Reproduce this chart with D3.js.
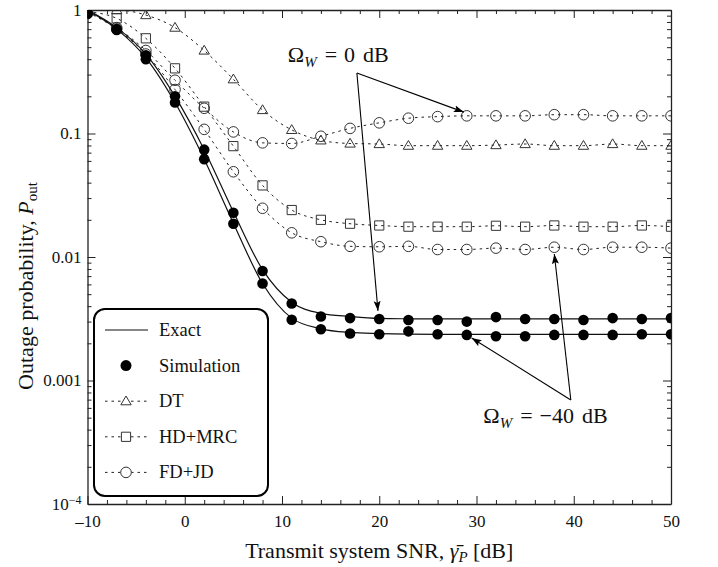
<!DOCTYPE html>
<html>
<head>
<meta charset="utf-8">
<script src="https://cdn.jsdelivr.net/npm/d3@7"></script>
<style>
  body { margin: 0; background: #fff; }
  svg { display: block; font-family: "Liberation Serif", "DejaVu Serif", serif; }
  .axis path, .axis line { stroke: #222; }
  .axis text { font-family: "Liberation Serif", serif; font-size: 17px; fill: #111; }
</style>
</head>
<body>
<script>
// transmit SNR grid (dB)
const snr = [-10, -7, -4, -1, 2, 5, 8, 11, 14, 17, 20, 23, 26, 29, 32, 35, 38, 41, 44, 47, 50]

// exact curves (solid) for the proposed scheme
const exactOmega0 = [1.0, 0.72, 0.44, 0.2, 0.074, 0.0232, 0.0079, 0.0043, 0.0035, 0.0033, 0.00318, 0.00316, 0.00315, 0.00315, 0.00315, 0.00315, 0.00315, 0.00315, 0.00315, 0.00315, 0.00315]
const exactOmega40 = [0.99, 0.7, 0.41, 0.178, 0.062, 0.0188, 0.0061, 0.0032, 0.00262, 0.00245, 0.0024, 0.00237, 0.00236, 0.00236, 0.00236, 0.00236, 0.00236, 0.00236, 0.00236, 0.00236, 0.00236]

// simulation points (filled)
const simOmega0 = [0.94, 0.70, 0.43, 0.20, 0.074, 0.0228, 0.0077, 0.0042, 0.0033, 0.0032, 0.00315, 0.00309, 0.00309, 0.00300, 0.00326, 0.00315, 0.00315, 0.00309, 0.00320, 0.00315, 0.00320]
const simOmega40 = [0.93, 0.69, 0.40, 0.178, 0.062, 0.0186, 0.0061, 0.0031, 0.0026, 0.0024, 0.00237, 0.00250, 0.00237, 0.00234, 0.00228, 0.00228, 0.00234, 0.00234, 0.00234, 0.00237, 0.00237]

// benchmark schemes (dotted, open markers)
const dt = [0.99, 1.0, 0.91, 0.72, 0.47, 0.275, 0.155, 0.107, 0.088, 0.083, 0.0822, 0.0797, 0.0797, 0.0797, 0.0806, 0.0822, 0.0797, 0.0797, 0.0822, 0.0797, 0.0797]
const hdMrc = [0.97, 0.856, 0.59, 0.337, 0.165, 0.079, 0.038, 0.024, 0.020, 0.0186, 0.0180, 0.0176, 0.0176, 0.0176, 0.0179, 0.0176, 0.0180, 0.0176, 0.0176, 0.0180, 0.0176]
const fdJdOmega0 = [0.97, 0.72, 0.47, 0.27, 0.16, 0.103, 0.084, 0.083, 0.095, 0.11, 0.122, 0.133, 0.137, 0.139, 0.139, 0.139, 0.142, 0.142, 0.139, 0.139, 0.139]
const fdJdOmega40 = [0.96, 0.70, 0.44, 0.227, 0.108, 0.049, 0.0248, 0.0157, 0.0133, 0.0122, 0.0121, 0.0122, 0.0115, 0.0115, 0.0118, 0.0115, 0.0120, 0.0115, 0.0120, 0.0120, 0.0118]

const xMajorTicks = [-10, 0, 10, 20, 30, 40, 50]
const xMinorTicks = [-8, -6, -4, -2, 2, 4, 6, 8, 12, 14, 16, 18, 22, 24, 26, 28, 32, 34, 36, 38, 42, 44, 46, 48]
const yMajorTicks = [1, 0.1, 0.01, 0.001, 0.0001]
const yTickLabels = ['1', '0.1', '0.01', '0.001', '10']
const legendItems = ['Exact', 'Simulation', 'DT', 'HD+MRC', 'FD+JD']

// annotation anchors, in data units [snr, Pout]
const omega0Origin = [17.7, 0.309]
const omega0Tips = [[28.7, 0.149], [19.87, 0.00366]]
const omega40Origin = [39.7, 0.000695]
const omega40Tips = [[29.5, 0.00221], [38.0, 0.01058]]

const width = 718
const height = 567
const margin = {top: 10, right: 47, bottom: 63, left: 87.5}

const svg = d3.select('body').append('svg')
  .attr('width', width)
  .attr('height', height)

const x = d3.scaleLinear().domain([-10, 50]).range([margin.left, width - margin.right])
const y = d3.scaleLog().domain([1e-4, 1]).range([height - margin.bottom, margin.top])

const defs = svg.append('defs')
defs.append('clipPath').attr('id', 'plot-clip')
  .append('rect')
  .attr('x', x(-10)).attr('y', y(1))
  .attr('width', x(50) - x(-10)).attr('height', y(1e-4) - y(1))

defs.append('marker')
  .attr('id', 'arrow')
  .attr('viewBox', '0 0 10 10')
  .attr('refX', 10).attr('refY', 5)
  .attr('markerWidth', 10).attr('markerHeight', 10)
  .attr('markerUnits', 'userSpaceOnUse')
  .attr('orient', 'auto')
  .append('path')
  .attr('d', 'M0,1.5L10,5L0,8.5L2,5Z')
  .attr('fill', '#000')

// minor log ticks
const yMinorTicks = []
for (const d of [1e-4, 1e-3, 1e-2, 1e-1]) {
  for (let k = 2; k <= 9; k++) yMinorTicks.push(k * d)
}

// ---- axes ----
const axisB = svg.append('g').attr('class', 'axis')
  .attr('transform', 'translate(0,' + y(1e-4) + ')')
axisB.call(d3.axisBottom(x).tickValues(xMajorTicks).tickSizeInner(-8).tickSizeOuter(0).tickPadding(11)
  .tickFormat(d => d < 0 ? '\u2013' + Math.abs(d) : d))
axisB.append('g').call(d3.axisBottom(x).tickValues(xMinorTicks).tickSizeInner(-4).tickSizeOuter(0).tickFormat(''))
  .select('.domain').remove()

const axisT = svg.append('g').attr('class', 'axis')
  .attr('transform', 'translate(0,' + y(1) + ')')
axisT.call(d3.axisTop(x).tickValues(xMajorTicks).tickSizeInner(-8).tickSizeOuter(0).tickFormat(''))
axisT.append('g').call(d3.axisTop(x).tickValues(xMinorTicks).tickSizeInner(-4).tickSizeOuter(0).tickFormat(''))
  .select('.domain').remove()

const axisL = svg.append('g').attr('class', 'axis')
  .attr('transform', 'translate(' + x(-10) + ',0)')
axisL.call(d3.axisLeft(y).tickValues(yMajorTicks).tickSizeInner(-8).tickSizeOuter(0).tickPadding(6)
  .tickFormat((d, i) => yTickLabels[i]))
axisL.append('g').call(d3.axisLeft(y).tickValues(yMinorTicks).tickSizeInner(-4).tickSizeOuter(0).tickFormat(''))
  .select('.domain').remove()
// superscript for 10^-4
axisL.selectAll('.tick text').filter(d => d === 1e-4)
  .append('tspan').attr('dy', '-0.5em').attr('font-size', '12px').text('\u22124')

const axisR = svg.append('g').attr('class', 'axis')
  .attr('transform', 'translate(' + x(50) + ',0)')
axisR.call(d3.axisRight(y).tickValues(yMajorTicks).tickSizeInner(-8).tickSizeOuter(0).tickFormat(''))
axisR.append('g').call(d3.axisRight(y).tickValues(yMinorTicks).tickSizeInner(-4).tickSizeOuter(0).tickFormat(''))
  .select('.domain').remove()

svg.selectAll('.axis path.domain').attr('stroke-width', 1.3)

// ---- axis titles ----
const xTitle = svg.append('text')
  .attr('x', (x(-10) + x(50)) / 2)
  .attr('y', 558)
  .attr('text-anchor', 'middle')
  .attr('font-size', '22px')
  .attr('fill', '#111')
xTitle.append('tspan').text('Transmit system SNR, ')
xTitle.append('tspan').attr('font-style', 'italic').text('\u03B3\u0304')
xTitle.append('tspan').attr('font-style', 'italic').attr('font-size', '15px').attr('dy', '4').text('P')
xTitle.append('tspan').attr('dy', '-4').text(' [dB]')

const yTitle = svg.append('text')
  .attr('transform', 'translate(33,286) rotate(-90)')
  .attr('text-anchor', 'middle')
  .attr('font-size', '22px')
  .attr('fill', '#111')
yTitle.append('tspan').text('Outage probability, ')
yTitle.append('tspan').attr('font-style', 'italic').text('P')
yTitle.append('tspan').attr('font-size', '15px').attr('dy', '4').text('out')

// ---- curves ----
const plot = svg.append('g').attr('clip-path', 'url(#plot-clip)')

const line = d3.line()
  .x((d, i) => x(snr[i]))
  .y(d => y(d))
  .curve(d3.curveMonotoneX)

const dotted = [
  {values: dt, shape: 'triangle'},
  {values: hdMrc, shape: 'square'},
  {values: fdJdOmega0, shape: 'circle'},
  {values: fdJdOmega40, shape: 'circle'}
]

function markerPath (shape) {
  if (shape === 'triangle') return 'M0,-5.2L5.2,3.6L-5.2,3.6Z'
  if (shape === 'square') return 'M-4.6,-4.6H4.6V4.6H-4.6Z'
  return d3.symbol(d3.symbolCircle, Math.PI * 5.3 * 5.3)()
}

dotted.forEach(s => {
  plot.append('path')
    .datum(s.values)
    .attr('d', line)
    .attr('fill', 'none')
    .attr('stroke', '#222')
    .attr('stroke-width', 1)
    .attr('stroke-dasharray', '2.5,4')
})

dotted.forEach(s => {
  plot.selectAll(null)
    .data(s.values)
    .enter().append('path')
    .attr('d', markerPath(s.shape))
    .attr('transform', (d, i) => 'translate(' + x(snr[i]) + ',' + y(d) + ')')
    .attr('fill', 'none')
    .attr('stroke', '#333')
    .attr('stroke-width', 1)
})

const solid = [exactOmega0, exactOmega40]
solid.forEach(vals => {
  plot.append('path')
    .datum(vals)
    .attr('d', line)
    .attr('fill', 'none')
    .attr('stroke', '#111')
    .attr('stroke-width', 1.2)
})

const sims = [simOmega0, simOmega40]
sims.forEach(vals => {
  plot.selectAll(null)
    .data(vals)
    .enter().append('circle')
    .attr('cx', (d, i) => x(snr[i]))
    .attr('cy', d => y(d))
    .attr('r', 5.3)
    .attr('fill', '#000')
})

// ---- annotations ----
const ann = svg.append('g')
function arrow (from, to) {
  ann.append('line')
    .attr('x1', x(from[0])).attr('y1', y(from[1]))
    .attr('x2', x(to[0])).attr('y2', y(to[1]))
    .attr('stroke', '#000')
    .attr('stroke-width', 1.1)
    .attr('marker-end', 'url(#arrow)')
}
omega0Tips.forEach(t => arrow(omega0Origin, t))
omega40Tips.forEach(t => arrow(omega40Origin, t))

function omegaLabel (pos, value) {
  const t = ann.append('text')
    .attr('x', x(pos[0]))
    .attr('y', y(pos[1]))
    .attr('font-size', '22px')
    .attr('fill', '#111')
  t.append('tspan').text('\u03A9')
  t.append('tspan').attr('font-style', 'italic').attr('font-size', '15px').attr('dy', '5').text('W')
  t.append('tspan').attr('dy', '-5').attr('dx', '8').text('=')
  t.append('tspan').attr('dx', '7').text(value)
  t.append('tspan').attr('dx', '8').text('dB')
}
omegaLabel([10.6, 0.379], '0')
omegaLabel([30.7, 0.000453], '\u221240')

// ---- legend ----
const legend = svg.append('g')
legend.append('rect')
  .attr('x', 94).attr('y', 309)
  .attr('width', 174).attr('height', 187)
  .attr('rx', 11)
  .attr('fill', '#fff')
  .attr('stroke', '#000')
  .attr('stroke-width', 2)

const legendShapes = [null, 'dot', 'triangle', 'square', 'circle']
legendItems.forEach((name, i) => {
  const cy = 330 + i * 35.6
  const row = legend.append('g').attr('transform', 'translate(0,' + cy + ')')
  if (i === 0) {
    row.append('line').attr('x1', 105).attr('x2', 148).attr('stroke', '#111').attr('stroke-width', 1.2)
  } else if (i === 1) {
    row.append('circle').attr('cx', 126).attr('r', 5.5).attr('fill', '#000')
  } else {
    row.append('line').attr('x1', 105).attr('x2', 148)
      .attr('stroke', '#222').attr('stroke-dasharray', '2.5,4')
    row.append('path').attr('d', markerPath(legendShapes[i]))
      .attr('transform', 'translate(126,0)')
      .attr('fill', '#fff').attr('stroke', '#333')
  }
  row.append('text')
    .attr('x', 159).attr('y', 6)
    .attr('font-size', '18.5px')
    .attr('fill', '#111')
    .text(name)
})
</script>
</body>
</html>
